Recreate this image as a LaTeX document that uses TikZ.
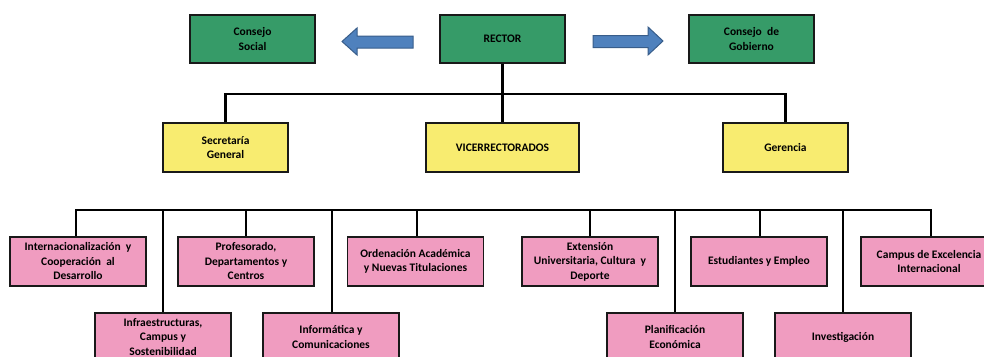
\documentclass[tikz,border=0pt]{standalone}
\usepackage{fontspec}
\setmainfont{Carlito}
\definecolor{boxgreen}{RGB}{54,155,104}
\definecolor{boxyellow}{RGB}{248,236,112}
\definecolor{boxpink}{RGB}{240,156,192}
\definecolor{arrowfill}{RGB}{79,129,189}
\definecolor{arrowline}{RGB}{56,93,138}
\tikzset{
  orgbox/.style={draw=black!90, line width=1.6pt, minimum width=125pt, minimum height=48pt,
    align=center, inner sep=2pt, font=\fontsize{11.5}{14.5}\selectfont\bfseries, text=black},
  topbox/.style={orgbox, fill=boxgreen},
  midbox/.style={orgbox, fill=boxyellow, minimum height=49pt},
  unitbox/.style={orgbox, fill=boxpink, minimum width=136pt, minimum height=49pt},
  conn/.style={draw=black, line width=2.4pt},
  blockarrow/.style={fill=arrowfill, draw=arrowline, line width=1pt, line join=miter}
}
\begin{document}
\begin{tikzpicture}[x=1pt,y=-1pt]
\useasboundingbox (0,0) rectangle (984,356);
\clip (0,0) rectangle (984,356);
% top row
\node[topbox] (social) at (252.5,39) {Consejo\\Social};
\node[topbox] (rector) at (502.5,39) {RECTOR};
\node[topbox] (gobierno) at (751.5,39) {Consejo~ de\\Gobierno};
% block arrows
\fill[blockarrow] (413,36) -- (357,36) -- (357,28) -- (342,41.5) -- (357,55) -- (357,48) -- (413,48) -- cycle;
\fill[blockarrow] (593,35.5) -- (648,35.5) -- (648,27) -- (663,41) -- (648,55) -- (648,47.5) -- (593,47.5) -- cycle;
% second row
\node[midbox] (secretaria) at (225.5,147.5) {Secretaría\\General};
\node[midbox, minimum width=153pt] (vice) at (502.5,147.5) {VICERRECTORADOS};
\node[midbox] (gerencia) at (785.5,147.5) {Gerencia};
% third row
\node[unitbox] (intl) at (78,261.5) {Internacionalización~ y\\Cooperación~ al\\Desarrollo};
\node[unitbox] (prof) at (246,261.5) {Profesorado,\\Departamentos y\\Centros};
\node[unitbox] (orden) at (415.5,261.5) {Ordenación Académica\\y Nuevas Titulaciones};
\node[unitbox] (ext) at (590,261.5) {Extensión\\Universitaria, Cultura~ y\\Deporte};
\node[unitbox] (estud) at (759,261.5) {Estudiantes y Empleo};
\node[unitbox] (campus) at (929,261.5) {Campus de Excelencia\\Internacional};
% fourth row
\node[unitbox, minimum height=48pt] (infra) at (163,337) {Infraestructuras,\\Campus y\\Sostenibilidad};
\node[unitbox, minimum height=48pt] (info) at (331,337) {Informática y\\Comunicaciones};
\node[unitbox, minimum height=48pt] (plan) at (675,337) {Planificación\\Económica};
\node[unitbox, minimum height=48pt] (inv) at (843,337) {Investigación};
% connectors
\coordinate (barA) at (0,94);
\coordinate (barB) at (0,210);
\draw[conn] (rector.south) -- (vice.north);
\draw[conn] (secretaria.north) -- (secretaria.north |- barA) -- (gerencia.north |- barA) -- (gerencia.north);
\draw[conn] ([xshift=-2pt]intl.north) -- ([xshift=-2pt]intl.north |- barB) -- ([xshift=2pt]campus.north |- barB) -- ([xshift=2pt]campus.north);
\draw[conn] (prof.north) -- (prof.north |- barB);
\draw[conn] ([xshift=1.5pt]orden.north) -- ([xshift=1.5pt]orden.north |- barB);
\draw[conn] (ext.north) -- (ext.north |- barB);
\draw[conn] ([xshift=1pt]estud.north) -- ([xshift=1pt]estud.north |- barB);
\draw[conn] (infra.north) -- (infra.north |- barB);
\draw[conn] ([xshift=1pt]info.north) -- ([xshift=1pt]info.north |- barB);
\draw[conn] (plan.north) -- (plan.north |- barB);
\draw[conn] (inv.north) -- (inv.north |- barB);
\end{tikzpicture}
\end{document}
